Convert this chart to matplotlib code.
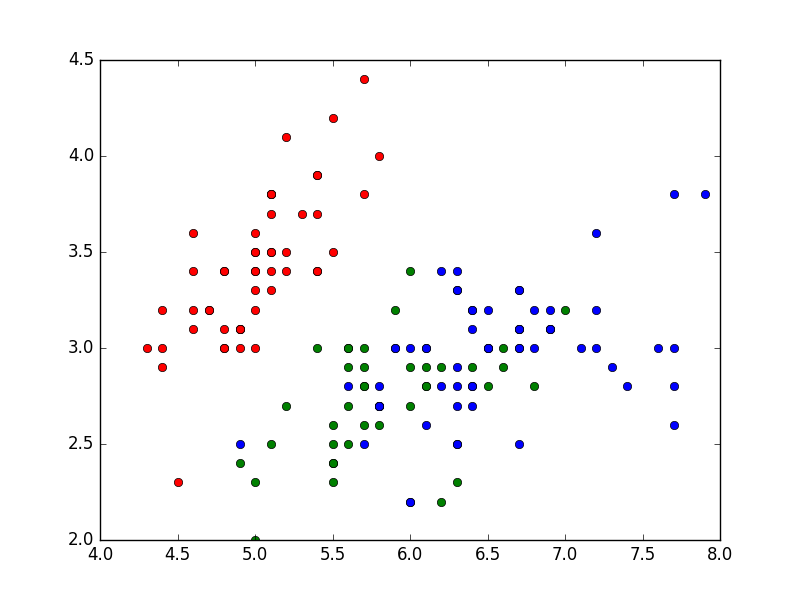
import matplotlib
matplotlib.use("Agg")
import matplotlib.pyplot as plt

# iris sepal length / sepal width, per species
setosa_len = [5.1, 4.9, 4.7, 4.6, 5.0, 5.4, 4.6, 5.0, 4.4, 4.9,
              5.4, 4.8, 4.8, 4.3, 5.8, 5.7, 5.4, 5.1, 5.7, 5.1,
              5.4, 5.1, 4.6, 5.1, 4.8, 5.0, 5.0, 5.2, 5.2, 4.7,
              4.8, 5.4, 5.2, 5.5, 4.9, 5.0, 5.5, 4.9, 4.4, 5.1,
              5.0, 4.5, 4.4, 5.0, 5.1, 4.8, 5.1, 4.6, 5.3, 5.0]
setosa_wid = [3.5, 3.0, 3.2, 3.1, 3.6, 3.9, 3.4, 3.4, 2.9, 3.1,
              3.7, 3.4, 3.0, 3.0, 4.0, 4.4, 3.9, 3.5, 3.8, 3.8,
              3.4, 3.7, 3.6, 3.3, 3.4, 3.0, 3.4, 3.5, 3.4, 3.2,
              3.1, 3.4, 4.1, 4.2, 3.1, 3.2, 3.5, 3.1, 3.0, 3.4,
              3.5, 2.3, 3.2, 3.5, 3.8, 3.0, 3.8, 3.2, 3.7, 3.3]

versicolor_len = [7.0, 6.4, 6.9, 5.5, 6.5, 5.7, 6.3, 4.9, 6.6, 5.2,
                  5.0, 5.9, 6.0, 6.1, 5.6, 6.7, 5.6, 5.8, 6.2, 5.6,
                  5.9, 6.1, 6.3, 6.1, 6.4, 6.6, 6.8, 6.7, 6.0, 5.7,
                  5.5, 5.5, 5.8, 6.0, 5.4, 6.0, 6.7, 6.3, 5.6, 5.5,
                  5.5, 6.1, 5.8, 5.0, 5.6, 5.7, 5.7, 6.2, 5.1, 5.7]
versicolor_wid = [3.2, 3.2, 3.1, 2.3, 2.8, 2.8, 3.3, 2.4, 2.9, 2.7,
                  2.0, 3.0, 2.2, 2.9, 2.9, 3.1, 3.0, 2.7, 2.2, 2.5,
                  3.2, 2.8, 2.5, 2.8, 2.9, 3.0, 2.8, 3.0, 2.9, 2.6,
                  2.4, 2.4, 2.7, 2.7, 3.0, 3.4, 3.1, 2.3, 3.0, 2.5,
                  2.6, 3.0, 2.6, 2.3, 2.7, 3.0, 2.9, 2.9, 2.5, 2.8]

virginica_len = [6.3, 5.8, 7.1, 6.3, 6.5, 7.6, 4.9, 7.3, 6.7, 7.2,
                 6.5, 6.4, 6.8, 5.7, 5.8, 6.4, 6.5, 7.7, 7.7, 6.0,
                 6.9, 5.6, 7.7, 6.3, 6.7, 7.2, 6.2, 6.1, 6.4, 7.2,
                 7.4, 7.9, 6.4, 6.3, 6.1, 7.7, 6.3, 6.4, 6.0, 6.9,
                 6.7, 6.9, 5.8, 6.8, 6.7, 6.7, 6.3, 6.5, 6.2, 5.9]
virginica_wid = [3.3, 2.7, 3.0, 2.9, 3.0, 3.0, 2.5, 2.9, 2.5, 3.6,
                 3.2, 2.7, 3.0, 2.5, 2.8, 3.2, 3.0, 3.8, 2.6, 2.2,
                 3.2, 2.8, 2.8, 2.7, 3.3, 3.2, 2.8, 3.0, 2.8, 3.0,
                 2.8, 3.8, 2.8, 2.8, 2.6, 3.0, 3.4, 3.1, 3.0, 3.1,
                 3.1, 3.1, 2.7, 3.2, 3.3, 3.0, 2.5, 3.0, 3.4, 3.0]

plt.style.use('classic')
fig = plt.figure(figsize=(8, 6), dpi=100)
ax = fig.add_subplot(111)

ax.plot(setosa_len, setosa_wid, 'ro')
ax.plot(versicolor_len, versicolor_wid, 'go')
ax.plot(virginica_len, virginica_wid, 'bo')

ax.set_xlim(4.0, 8.0)
ax.set_ylim(2.0, 4.5)

fig.savefig('out.png', dpi=100, facecolor='white')
